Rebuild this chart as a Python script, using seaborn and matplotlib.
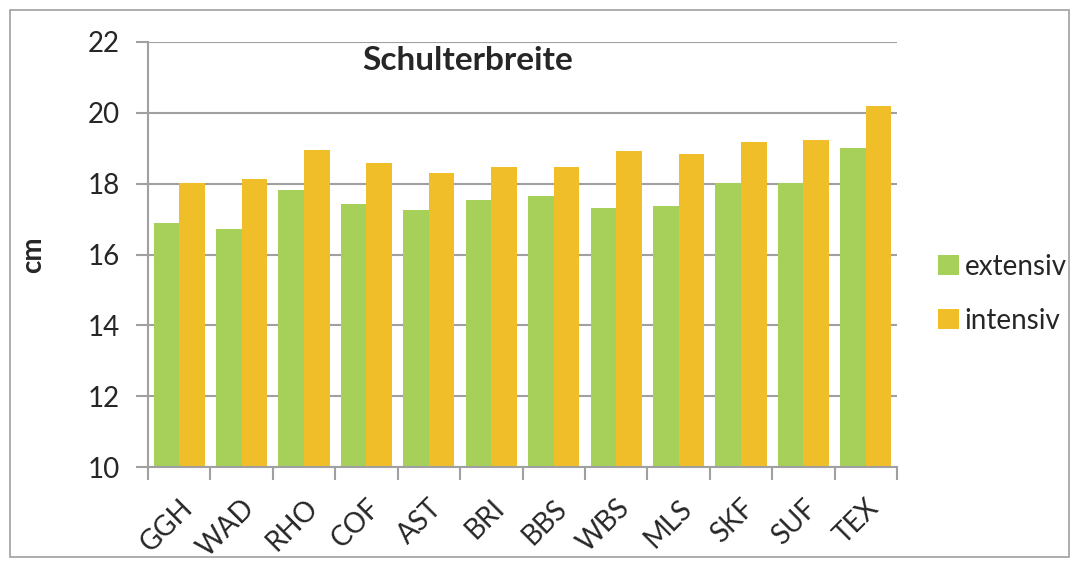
import matplotlib
matplotlib.use("Agg")
import matplotlib.pyplot as plt
import seaborn as sns
import pandas as pd
import numpy as np
from matplotlib.patches import Rectangle

categories = ["GGH", "WAD", "RHO", "COF", "AST", "BRI", "BBS", "WBS", "MLS", "SKF", "SUF", "TEX"]
extensiv = [16.88, 16.71, 17.81, 17.43, 17.27, 17.54, 17.65, 17.32, 17.38, 18.02, 18.02, 19.02]
intensiv = [18.03, 18.14, 18.96, 18.58, 18.31, 18.47, 18.47, 18.91, 18.85, 19.18, 19.23, 20.18]
series = ["extensiv", "intensiv"]
yticks = [10, 12, 14, 16, 18, 20, 22]

df = pd.DataFrame({
    "cat": categories * 2,
    "val": extensiv + intensiv,
    "serie": [series[0]] * len(categories) + [series[1]] * len(categories),
})

sns.set_theme(style="white")
plt.rcParams["font.family"] = ["Lato", "DejaVu Sans"]

fig = plt.figure(figsize=(10.79, 5.67), dpi=100)
ax = fig.add_axes([148 / 1079, 1 - 467 / 567, (897 - 148) / 1079, (467 - 42) / 567])

colors = {"extensiv": "#a6d05a", "intensiv": "#f0be28"}
sns.barplot(data=df, x="cat", y="val", hue="serie", palette=colors, ax=ax,
            width=0.82, gap=0, saturation=1, linewidth=0, zorder=3)

ax.set_ylim(10, 22)
ax.set_xlim(-0.5, len(categories) - 0.5)
ax.set_yticks(yticks)
ax.set_yticklabels([str(t) for t in yticks], fontsize=20)
ax.yaxis.grid(True, color="#a0a0a0", linewidth=1.5, zorder=0)
ax.set_axisbelow(True)
for b in ax.patches:
    b.set_zorder(3)

for s in ["top", "right"]:
    ax.spines[s].set_visible(False)
for s in ["left", "bottom"]:
    ax.spines[s].set_color("#a0a0a0")
    ax.spines[s].set_linewidth(1.5)
    ax.spines[s].set_zorder(4)

ax.tick_params(axis="y", length=9, width=1.5, color="#a0a0a0", pad=11, left=True)
ax.set_xticks(range(len(categories)))
ax.set_xticklabels(categories, rotation=45, ha="right", rotation_mode="anchor", fontsize=20)
ax.tick_params(axis="x", which="major", length=0, pad=20)
ax.set_xticks(np.arange(-0.5, len(categories), 1.0), minor=True)
ax.tick_params(axis="x", which="minor", length=9, width=1.5, color="#a0a0a0", bottom=True)

ax.set_xlabel("")
ax.set_ylabel("cm", fontsize=20, fontweight="bold", labelpad=30)
ax.text(0.427, 0.99, "Schulterbreite", transform=ax.transAxes, ha="center", va="top",
        fontsize=24, fontweight="bold")

handles, labels = ax.get_legend_handles_labels()
ax.legend(handles, labels, loc="center left", bbox_to_anchor=(938 / 1079, 0.482),
          bbox_transform=fig.transFigure, frameon=False, fontsize=20,
          borderaxespad=0, borderpad=0,
          handlelength=0.75, handleheight=0.75, handletextpad=0.2, labelspacing=1.0)

fig.patches.append(Rectangle((10 / 1079, 10 / 567), 1059 / 1079, 547 / 567,
                             transform=fig.transFigure, fill=False,
                             edgecolor="#a0a0a0", linewidth=1.2))

fig.savefig("out.png", dpi=100)
